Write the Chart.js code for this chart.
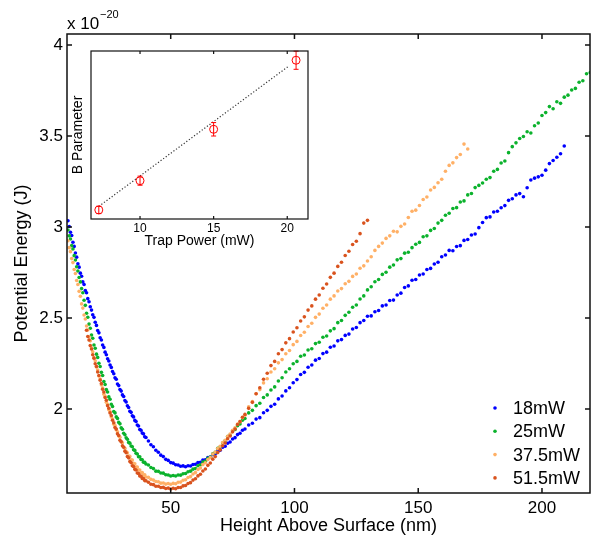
<!DOCTYPE html>
<html>
<head>
<meta charset="utf-8">
<script src="https://cdn.jsdelivr.net/npm/chart.js@4.4.1/dist/chart.umd.min.js"></script>
<style>
  html, body { margin: 0; padding: 0; background: #fff; overflow: hidden; }
  #wrap { position: relative; width: 598px; height: 538px; }
  #inset { position: absolute; left: 60px; top: 45px; }
</style>
</head>
<body>
<div id="wrap">
  <canvas id="main" width="598" height="538"></canvas>
  <canvas id="inset" width="260" height="210"></canvas>
</div>
<script>
// height grid (nm) shared by all four power series
const heights = [
  8.5, 9, 9.5, 10, 10.5, 11, 11.5, 12, 12.5, 13,
  13.5, 14, 14.5, 15, 15.5, 16, 16.5, 17, 17.5, 18,
  18.5, 19, 19.5, 20, 20.5, 21, 21.5, 22, 22.5, 23,
  23.5, 24, 24.5, 25, 25.5, 26, 26.5, 27, 27.5, 28,
  28.5, 29, 29.5, 30, 30.5, 31, 31.5, 32, 32.5, 33,
  33.5, 34, 34.5, 35, 35.5, 36, 36.5, 37, 37.5, 38,
  38.5, 39, 39.5, 40,
  41, 42, 43, 44, 45, 46, 47, 48, 49, 50,
  51, 52, 53, 54, 55, 56, 57, 58, 59, 60,
  61, 62, 63, 64, 65, 66, 67, 68, 69, 70,
  71, 72, 73, 74, 75, 76, 77, 78, 79, 80,
  81.5, 83, 84.5, 86, 87.5, 89, 90.5, 92, 93.5, 95,
  96.5, 98, 99.5, 101, 102.5, 104, 105.5, 107, 108.5, 110,
  111.5, 113, 114.5, 116, 117.5, 119, 120.5, 122, 123.5, 125,
  126.5, 128, 129.5, 131, 132.5, 134, 135.5, 137, 138.5, 140,
  141.5, 143, 144.5, 146, 147.5, 149, 150.5, 152, 153.5, 155,
  156.5, 158, 159.5, 161, 162.5, 164, 165.5, 167, 168.5, 170,
  171.5, 173, 174.5, 176, 177.5, 179, 180.5, 182, 183.5, 185,
  186.5, 188, 189.5, 191, 192.5, 194, 195.5, 197, 198.5, 200,
  201.5, 203, 204.5, 206, 207.5, 209, 210.5, 212, 213.5, 215,
  216.5, 218, 219.5
];

// potential energy, units of 1e-20 J
const energy18 = [
  3.034, 3.002, 2.971, 2.953, 2.916, 2.893, 2.857, 2.834, 2.797, 2.779,
  2.746, 2.729, 2.698, 2.684, 2.651, 2.638, 2.606, 2.589, 2.561, 2.543,
  2.517, 2.503, 2.476, 2.459, 2.431, 2.418, 2.391, 2.379, 2.351, 2.338,
  2.312, 2.298, 2.276, 2.263, 2.241, 2.228, 2.206, 2.193, 2.171, 2.163,
  2.137, 2.128, 2.107, 2.098, 2.077, 2.068, 2.046, 2.038, 2.017, 2.008,
  1.987, 1.981, 1.962, 1.956, 1.937, 1.931, 1.912, 1.906, 1.887, 1.883,
  1.867, 1.863, 1.847, 1.843,
  1.824, 1.803, 1.792, 1.773, 1.762, 1.746, 1.738, 1.723, 1.717, 1.705,
  1.702, 1.693, 1.692, 1.685, 1.687, 1.682, 1.688, 1.686, 1.695, 1.696,
  1.705, 1.707, 1.719, 1.721, 1.733, 1.736, 1.749, 1.753, 1.768, 1.773,
  1.789, 1.795, 1.811, 1.818, 1.835, 1.842, 1.859, 1.866, 1.883, 1.890,
  1.912, 1.921, 1.944, 1.952, 1.979, 1.992, 2.014, 2.026, 2.055, 2.071,
  2.099, 2.116, 2.144, 2.161, 2.189, 2.201, 2.229, 2.241, 2.268, 2.277,
  2.304, 2.312, 2.339, 2.346, 2.374, 2.381, 2.404, 2.411, 2.439, 2.447,
  2.474, 2.486, 2.509, 2.511, 2.534, 2.541, 2.566, 2.571, 2.596, 2.598,
  2.626, 2.636, 2.667, 2.676, 2.707, 2.711, 2.736, 2.741, 2.766, 2.772,
  2.796, 2.806, 2.836, 2.846, 2.871, 2.869, 2.892, 2.897, 2.926, 2.931,
  2.956, 2.961, 2.996, 3.024, 3.051, 3.055, 3.082, 3.086, 3.105, 3.117,
  3.146, 3.155, 3.176, 3.183, 3.166, 3.215, 3.258, 3.268, 3.275, 3.284,
  3.312, 3.348, 3.365, 3.383, 3.402, 3.445
];
const energy25 = [
  2.983, 2.951, 2.934, 2.897, 2.879, 2.842, 2.818, 2.781, 2.758, 2.722,
  2.698, 2.661, 2.638, 2.597, 2.569, 2.526, 2.504, 2.466, 2.443, 2.406,
  2.388, 2.351, 2.333, 2.301, 2.283, 2.251, 2.233, 2.201, 2.184, 2.151,
  2.134, 2.106, 2.093, 2.066, 2.053, 2.026, 2.013, 1.986, 1.978, 1.956,
  1.948, 1.926, 1.918, 1.896, 1.888, 1.866, 1.858, 1.841, 1.833, 1.816,
  1.812, 1.796, 1.792, 1.776, 1.772, 1.756, 1.752, 1.737, 1.737, 1.722,
  1.721, 1.707, 1.706, 1.697,
  1.692, 1.678, 1.672, 1.658, 1.657, 1.648, 1.647, 1.638, 1.637, 1.631,
  1.634, 1.631, 1.637, 1.636, 1.644, 1.645, 1.655, 1.658, 1.669, 1.673,
  1.688, 1.693, 1.708, 1.713, 1.728, 1.735, 1.753, 1.762, 1.783, 1.792,
  1.813, 1.825, 1.848, 1.857, 1.878, 1.887, 1.908, 1.917, 1.938, 1.947,
  1.978, 1.992, 2.018, 2.031, 2.063, 2.077, 2.104, 2.121, 2.153, 2.171,
  2.203, 2.221, 2.248, 2.261, 2.289, 2.296, 2.324, 2.331, 2.359, 2.366,
  2.394, 2.401, 2.429, 2.441, 2.474, 2.486, 2.514, 2.531, 2.559, 2.571,
  2.604, 2.621, 2.654, 2.671, 2.699, 2.711, 2.739, 2.751, 2.779, 2.791,
  2.819, 2.826, 2.856, 2.861, 2.886, 2.905, 2.915, 2.946, 2.951, 2.981,
  2.991, 3.021, 3.036, 3.064, 3.075, 3.101, 3.106, 3.137, 3.143, 3.176,
  3.184, 3.216, 3.228, 3.241, 3.262, 3.271, 3.306, 3.316, 3.351, 3.362,
  3.408, 3.441, 3.462, 3.486, 3.497, 3.523, 3.516, 3.556, 3.571, 3.612,
  3.628, 3.661, 3.649, 3.688, 3.679, 3.713, 3.724, 3.752, 3.761, 3.795,
  3.803, 3.842, 3.848
];
const energy375 = [
  2.924, 2.886, 2.864, 2.826, 2.804, 2.766, 2.744, 2.706, 2.684, 2.646,
  2.619, 2.577, 2.554, 2.516, 2.494, 2.456, 2.434, 2.396, 2.374, 2.336,
  2.314, 2.281, 2.264, 2.231, 2.214, 2.181, 2.164, 2.131, 2.114, 2.081,
  2.069, 2.036, 2.024, 1.996, 1.984, 1.956, 1.944, 1.916, 1.909, 1.886,
  1.874, 1.851, 1.844, 1.821, 1.814, 1.791, 1.784, 1.766, 1.759, 1.741,
  1.739, 1.721, 1.719, 1.701, 1.699, 1.681, 1.681, 1.664, 1.664, 1.649,
  1.650, 1.636, 1.638, 1.626,
  1.624, 1.613, 1.609, 1.601, 1.600, 1.592, 1.593, 1.587, 1.590, 1.586,
  1.591, 1.589, 1.597, 1.598, 1.608, 1.611, 1.623, 1.628, 1.642, 1.650,
  1.667, 1.676, 1.694, 1.704, 1.722, 1.733, 1.752, 1.763, 1.782, 1.795,
  1.815, 1.828, 1.849, 1.862, 1.883, 1.896, 1.917, 1.930, 1.952, 1.965,
  2.012, 2.041, 2.083, 2.106, 2.143, 2.166, 2.203, 2.221, 2.253, 2.271,
  2.303, 2.321, 2.353, 2.371, 2.403, 2.421, 2.453, 2.471, 2.503, 2.521,
  2.553, 2.571, 2.603, 2.621, 2.648, 2.661, 2.688, 2.701, 2.728, 2.741,
  2.773, 2.786, 2.813, 2.836, 2.871, 2.893, 2.911, 2.937, 2.951, 2.976,
  2.973, 3.003, 3.016, 3.052, 3.086, 3.092, 3.118, 3.151, 3.164, 3.203,
  3.217, 3.243, 3.262, 3.306, 3.338, 3.352, 3.381, 3.398, 3.455, 3.428
];
const energy515 = [
  null, null, null, null, null, null, null, null, null, null,
  null, null, null, null, null,
  2.432, 2.398, 2.379, 2.348, 2.329, 2.298, 2.279, 2.248, 2.233, 2.203,
  2.184, 2.158, 2.139, 2.108, 2.093, 2.063, 2.048, 2.018, 2.004, 1.978,
  1.964, 1.938, 1.924, 1.898, 1.889, 1.863, 1.854, 1.828, 1.819, 1.798,
  1.789, 1.768, 1.759, 1.738, 1.731, 1.711, 1.704, 1.688, 1.684, 1.668,
  1.664, 1.648, 1.645, 1.632, 1.630, 1.618, 1.617, 1.606, 1.605,
  1.597, 1.586, 1.584, 1.575, 1.575, 1.568, 1.569, 1.563, 1.565, 1.560,
  1.564, 1.561, 1.568, 1.568, 1.577, 1.579, 1.590, 1.595, 1.609, 1.616,
  1.632, 1.641, 1.659, 1.670, 1.690, 1.703, 1.724, 1.738, 1.760, 1.775,
  1.798, 1.813, 1.836, 1.851, 1.874, 1.890, 1.914, 1.930, 1.954, 1.970,
  2.003, 2.036, 2.083, 2.116, 2.163, 2.196, 2.238, 2.261, 2.303, 2.326,
  2.363, 2.386, 2.423, 2.446, 2.483, 2.506, 2.543, 2.566, 2.603, 2.626,
  2.663, 2.686, 2.723, 2.746, 2.783, 2.806, 2.843, 2.866, 2.903, 2.921,
  2.963, 3.021, 3.036
];

const seriesLabels = ['18mW', '25mW', '37.5mW', '51.5mW'];
const seriesColors = ['#0000ff', '#0bb22c', '#ffb066', '#d9531e'];
const xTicks = [50, 100, 150, 200];
const yTicks = [2, 2.5, 3, 3.5, 4];

// inset: B parameter vs trap power
const trapPower = [7.2, 10, 15, 20.6];
const bParam = [0.054, 0.228, 0.534, 0.945];
const bErr = [0.022, 0.027, 0.04, 0.054];
const fitPower = [7.2, 20.1];
const fitB = [0.075, 0.91];
const insetTicks = [10, 15, 20];

Chart.defaults.font.family = '"Liberation Sans", Arial, Helvetica, sans-serif';
Chart.defaults.color = '#000';

function toPoints(vals) {
  const pts = [];
  vals.forEach((v, i) => {
    if (v !== null) pts.push({ x: heights[i], y: v });
  });
  return pts;
}

function frameTicks(len, lw, xs, ys) {
  return {
    id: 'frameTicks',
    afterDatasetsDraw(chart) {
      const { ctx, chartArea: a, scales } = chart;
      ctx.save();
      ctx.strokeStyle = '#111';
      ctx.lineWidth = lw;
      ctx.beginPath();
      xs.forEach(v => {
        const p = scales.x.getPixelForValue(v);
        ctx.moveTo(p, a.bottom); ctx.lineTo(p, a.bottom - len);
        ctx.moveTo(p, a.top); ctx.lineTo(p, a.top + len);
      });
      ys.forEach(v => {
        const p = scales.y.getPixelForValue(v);
        ctx.moveTo(a.left, p); ctx.lineTo(a.left + len, p);
        ctx.moveTo(a.right, p); ctx.lineTo(a.right - len, p);
      });
      ctx.stroke();
      ctx.strokeRect(a.left, a.top, a.right - a.left, a.bottom - a.top);
      ctx.restore();
    }
  };
}

const legendAndExponent = {
  id: 'legendAndExponent',
  afterDraw(chart) {
    const ctx = chart.ctx;
    ctx.save();
    ctx.fillStyle = '#000';
    ctx.textBaseline = 'alphabetic';
    ctx.font = '17px "Liberation Sans", Arial, sans-serif';
    ctx.fillText('x 10', 67, 29);
    ctx.font = '11px "Liberation Sans", Arial, sans-serif';
    ctx.fillText('\u221220', 100, 18);
    ctx.font = '18px "Liberation Sans", Arial, sans-serif';
    ctx.textBaseline = 'middle';
    chart.data.datasets.forEach((ds, i) => {
      const y = 408 + i * 23.3;
      ctx.fillStyle = ds.pointBackgroundColor;
      ctx.beginPath();
      ctx.arc(495, y, 1.8, 0, Math.PI * 2);
      ctx.fill();
      ctx.fillStyle = '#000';
      ctx.fillText(ds.label, 513, y + 1);
    });
    ctx.restore();
  }
};

const energySeries = [energy18, energy25, energy375, energy515];

new Chart(document.getElementById('main'), {
  type: 'scatter',
  data: {
    datasets: energySeries.map((vals, i) => ({
      label: seriesLabels[i],
      data: toPoints(vals),
      pointRadius: 1.8,
      pointBorderWidth: 0,
      pointBackgroundColor: seriesColors[i],
      pointBorderColor: seriesColors[i],
      order: energySeries.length - i
    }))
  },
  options: {
    responsive: false,
    animation: false,
    events: [],
    layout: { padding: { top: 34, right: 8, left: 0, bottom: 0 } },
    plugins: { legend: { display: false }, tooltip: { enabled: false } },
    scales: {
      x: {
        type: 'linear',
        min: 8.1,
        max: 219.4,
        afterBuildTicks: s => { s.ticks = xTicks.map(v => ({ value: v })); },
        afterFit: s => { s.height = 45; },
        grid: { display: false, drawTicks: false },
        border: { display: false },
        ticks: { font: { size: 17 }, padding: 5, maxRotation: 0, callback: v => String(v) },
        title: { display: true, text: 'Height Above Surface (nm)', font: { size: 18 }, padding: { top: 0, bottom: 1 } }
      },
      y: {
        type: 'linear',
        min: 1.538,
        max: 4.06,
        afterBuildTicks: s => { s.ticks = yTicks.map(v => ({ value: v })); },
        afterFit: s => { s.width = 67; },
        grid: { display: false, drawTicks: false },
        border: { display: false },
        ticks: { font: { size: 17 }, padding: 4, callback: v => String(v) },
        title: { display: true, text: 'Potential Energy (J)', font: { size: 18 }, padding: { top: 11, bottom: 0 } }
      }
    }
  },
  plugins: [frameTicks(5, 1.5, xTicks, yTicks), legendAndExponent]
});

const insetExtras = {
  id: 'insetExtras',
  beforeDatasetsDraw(chart) {
    const { ctx, chartArea: a } = chart;
    ctx.save();
    ctx.fillStyle = '#fff';
    ctx.fillRect(a.left, a.top, a.right - a.left, a.bottom - a.top);
    ctx.restore();
  },
  afterDatasetsDraw(chart) {
    const { ctx, scales } = chart;
    ctx.save();
    ctx.strokeStyle = '#ff0000';
    ctx.lineWidth = 1;
    ctx.beginPath();
    trapPower.forEach((p, i) => {
      const x = scales.x.getPixelForValue(p);
      const y0 = scales.y.getPixelForValue(bParam[i] - bErr[i]);
      const y1 = scales.y.getPixelForValue(bParam[i] + bErr[i]);
      ctx.moveTo(x, y0); ctx.lineTo(x, y1);
      ctx.moveTo(x - 2.5, y0); ctx.lineTo(x + 2.5, y0);
      ctx.moveTo(x - 2.5, y1); ctx.lineTo(x + 2.5, y1);
    });
    ctx.stroke();
    ctx.restore();
  }
};

new Chart(document.getElementById('inset'), {
  type: 'scatter',
  data: {
    datasets: [
      {
        label: 'B',
        data: trapPower.map((p, i) => ({ x: p, y: bParam[i] })),
        pointStyle: 'circle',
        pointRadius: 4,
        pointBorderWidth: 1,
        pointBorderColor: '#ff0000',
        pointBackgroundColor: 'rgba(0,0,0,0)'
      },
      {
        label: 'fit',
        data: fitPower.map((p, i) => ({ x: p, y: fitB[i] })),
        showLine: true,
        borderColor: '#333',
        borderWidth: 1.2,
        borderDash: [1.2, 2],
        pointRadius: 0
      }
    ]
  },
  options: {
    responsive: false,
    animation: false,
    events: [],
    layout: { padding: { top: 6, right: 12, left: 0, bottom: 0 } },
    plugins: { legend: { display: false }, tooltip: { enabled: false } },
    scales: {
      x: {
        type: 'linear',
        min: 6.67,
        max: 21.41,
        afterBuildTicks: s => { s.ticks = insetTicks.map(v => ({ value: v })); },
        afterFit: s => { s.height = 36; },
        grid: { display: false, drawTicks: false },
        border: { display: false },
        ticks: { font: { size: 12 }, padding: 2, maxRotation: 0, callback: v => String(v) },
        title: { display: true, text: 'Trap Power (mW)', font: { size: 14 }, padding: { top: 0, bottom: 5 } }
      },
      y: {
        type: 'linear',
        min: 0,
        max: 1,
        afterFit: s => { s.width = 31; },
        grid: { display: false, drawTicks: false },
        border: { display: false },
        ticks: { display: false },
        title: { display: true, text: 'B Parameter', font: { size: 14 }, padding: { top: 10, bottom: 0 } }
      }
    }
  },
  plugins: [insetExtras, frameTicks(3, 1.2, insetTicks, [])]
});
</script>
</body>
</html>
